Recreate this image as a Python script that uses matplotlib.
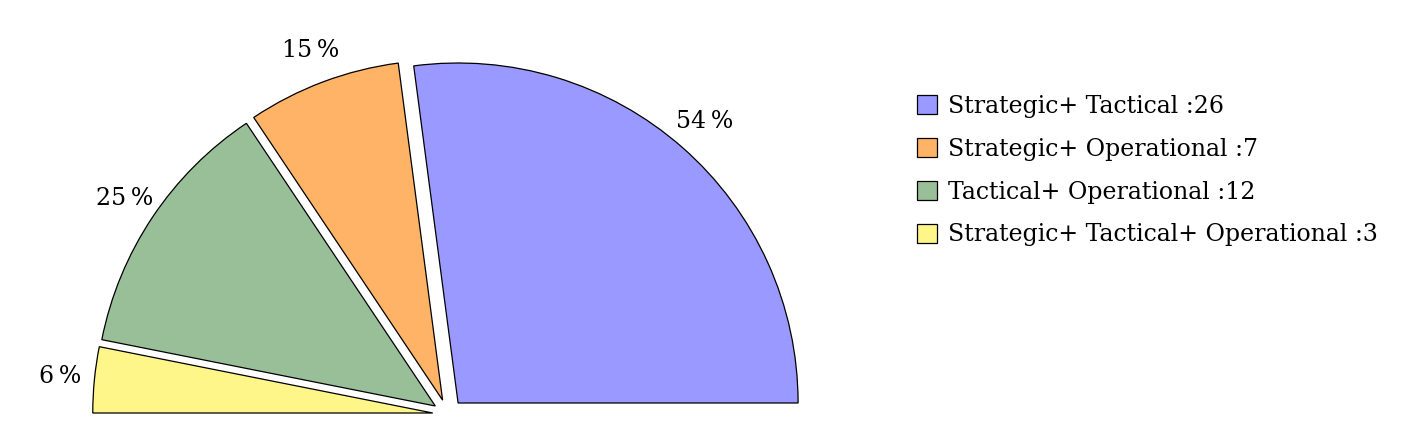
import matplotlib
matplotlib.use("Agg")
import matplotlib.pyplot as plt
from matplotlib.patches import Patch

names = ["Strategic+ Tactical", "Strategic+ Operational", "Tactical+ Operational",
         "Strategic+ Tactical+ Operational"]
counts = [26, 7, 12, 3]
colors = ["#9999ff", "#ffb366", "#99bf99", "#fff68a"]

plt.rcParams['font.family'] = ['DejaVu Serif']
FS = 17

W, H = 1411, 444
fig = plt.figure(figsize=(W / 100, H / 100), dpi=100)
ax = fig.add_axes([0, 0, 1, 1])
cx, cy, R = 448, 414.5, 340

total = sum(counts)
fracs = [c / (2 * total) for c in counts]
wedges, texts, autotexts = ax.pie(
    fracs, normalize=False, startangle=0, counterclock=True,
    colors=colors, explode=[0.045] * len(counts), radius=1,
    autopct=lambda p: f"{2 * p:.0f}\u2009%", pctdistance=1.1,
    wedgeprops=dict(edgecolor="black", linewidth=0.9),
    textprops=dict(fontsize=FS, color="black"), frame=True)
ax.set_xlim(-cx / R, (W - cx) / R)
ax.set_ylim(-(H - cy) / R, cy / R)
ax.set_aspect("auto")
ax.axis("off")

handles = [Patch(facecolor=c, edgecolor="black", linewidth=0.9) for c in colors]
labels = [f"{n} :{v}" for n, v in zip(names, counts)]
fig.legend(handles, labels, loc="upper left", bbox_to_anchor=(917 / W, 1 - 95 / H),
           frameon=False, fontsize=FS, handlelength=0.85, handleheight=0.85,
           handletextpad=0.45, labelspacing=0.84, borderpad=0, borderaxespad=0)

fig.savefig("out.png", dpi=100)
